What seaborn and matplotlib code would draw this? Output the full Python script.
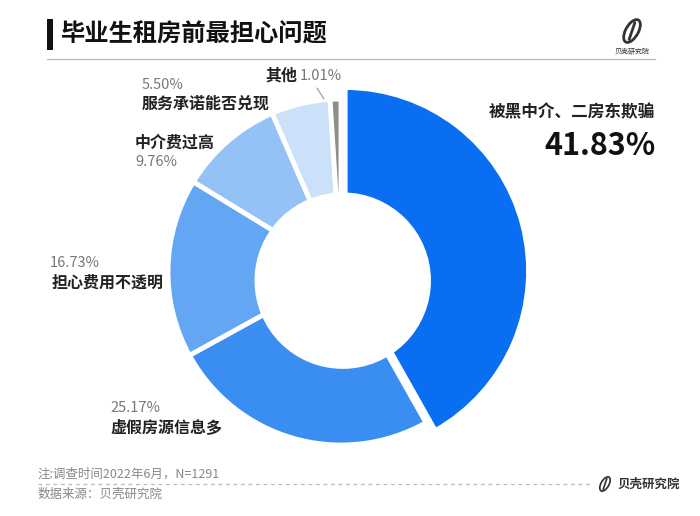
import matplotlib
matplotlib.use("Agg")
import matplotlib.pyplot as plt
import seaborn as sns
from matplotlib.patches import Rectangle, Ellipse, Circle
from matplotlib.lines import Line2D

# ---- data ----
categories = ["被黑中介、二房东欺骗", "虚假房源信息多", "担心费用不透明",
              "中介费过高", "服务承诺能否兑现", "其他"]
values = [41.83, 25.17, 16.73, 9.76, 5.50, 1.01]
value_labels = ["41.83%", "25.17%", "16.73%", "9.76%", "5.50%", "1.01%"]
colors = ["#0a6ef2", "#3b8ef1", "#63a6f3", "#95c2f6", "#cbe1fa", "#8e8e8e"]
title = "毕业生租房前最担心问题"
note = "注:调查时间2022年6月，N=1291"
source = "数据来源：贝壳研究院"
brand = "贝壳研究院"

sns.set_theme(style="white")
plt.rcParams['font.family'] = ['Noto Sans CJK SC', 'DejaVu Sans']

W, H = 700, 516
fig = plt.figure(figsize=(7.0, 5.16), dpi=100)
fig.patch.set_facecolor("white")

def fx(x):
    return x / W

def fy(y):
    return 1 - y / H

# donut axes: center (341, 272), unit radius 173 px
cx, cy, unit = 341, 272, 173
lim = 1.2
S = 2 * lim * unit
ax = fig.add_axes([fx(cx - S / 2), fy(cy + S / 2), S / W, S / H])

wedges, _ = ax.pie(values, colors=colors, startangle=90, counterclock=False,
                   radius=1.0, explode=[0.025, 0, 0, 0, 0, 0],
                   wedgeprops=dict(edgecolor="white", linewidth=3.5))
wedges[0].set_radius(1.06)
# centre hole (sits a little below the outer centre, as in the original)
ax.add_patch(Circle((0.01, -0.05), 0.51, facecolor="white", edgecolor="none", zorder=5))
ax.set_xlim(-lim, lim)
ax.set_ylim(-lim, lim)
ax.set_aspect("equal")
ax.axis("off")

# ---- title block ----
fig.add_artist(Rectangle((fx(47), fy(50)), 6 / W, 31 / H, transform=fig.transFigure,
                         color="#111111", lw=0))
fig.text(fx(61), fy(35), title, fontsize=17.5, fontweight="bold", color="#111111",
         va="center", ha="left")
fig.add_artist(Line2D([fx(47), fx(655)], [fy(59), fy(59)], transform=fig.transFigure,
                      color="#bbbbbb", lw=1))


def logo(x, y, s):
    """simple outline mark at pixel (x, y), size s px"""
    e1 = Ellipse((fx(x), fy(y)), 0.55 * s / W, 1.0 * s / H, angle=-20,
                 transform=fig.transFigure, fill=False, ec="#333333", lw=max(1.0, s / 12))
    fig.add_artist(e1)
    fig.add_artist(Line2D([fx(x - 0.12 * s), fx(x + 0.12 * s)],
                          [fy(y + 0.35 * s), fy(y - 0.35 * s)],
                          transform=fig.transFigure, color="#333333", lw=max(1.0, s / 12)))

# top-right logo
logo(632, 31, 24)
fig.text(fx(632), fy(52), brand, fontsize=5, color="#333333", ha="center", va="center")

# ---- labels ----
fig.text(fx(655), fy(112), categories[0], fontsize=12, fontweight="bold",
         color="#222222", ha="right", va="center")
fig.text(fx(656), fy(146), value_labels[0], fontsize=22, fontweight="bold",
         color="#111111", ha="right", va="center")

fig.text(fx(110), fy(408), value_labels[1], fontsize=10.5, color="#777777",
         ha="left", va="center")
fig.text(fx(110), fy(427), categories[1], fontsize=11.5, fontweight="bold",
         color="#222222", ha="left", va="center")

fig.text(fx(50), fy(263), value_labels[2], fontsize=10.5, color="#777777",
         ha="left", va="center")
fig.text(fx(52), fy(283), categories[2], fontsize=11.5, fontweight="bold",
         color="#222222", ha="left", va="center")

fig.text(fx(135), fy(143), categories[3], fontsize=11.5, fontweight="bold",
         color="#222222", ha="left", va="center")
fig.text(fx(135), fy(162), value_labels[3], fontsize=10.5, color="#777777",
         ha="left", va="center")

fig.text(fx(142), fy(85), value_labels[4], fontsize=10.5, color="#777777",
         ha="left", va="center")
fig.text(fx(142), fy(104), categories[4], fontsize=11.5, fontweight="bold",
         color="#222222", ha="left", va="center")

fig.text(fx(265), fy(76), categories[5], fontsize=11.5, fontweight="bold",
         color="#222222", ha="left", va="center")
fig.text(fx(300), fy(76), value_labels[5], fontsize=10.5, color="#777777",
         ha="left", va="center")
fig.add_artist(Line2D([fx(317), fx(324)], [fy(88), fy(99)], transform=fig.transFigure,
                      color="#999999", lw=0.8))

# ---- footer ----
fig.text(fx(38), fy(474), note, fontsize=9, color="#888888", ha="left", va="center")
fig.add_artist(Line2D([fx(38), fx(592)], [fy(484), fy(484)], transform=fig.transFigure,
                      color="#bbbbbb", lw=0.9, ls=(0, (3, 3))))
fig.text(fx(38), fy(494), source, fontsize=9, color="#888888", ha="left", va="center")
logo(605, 484, 15)
fig.text(fx(617), fy(484), brand, fontsize=9, fontweight="bold", color="#333333",
         ha="left", va="center")

fig.savefig("out.png", dpi=100, facecolor="white")
